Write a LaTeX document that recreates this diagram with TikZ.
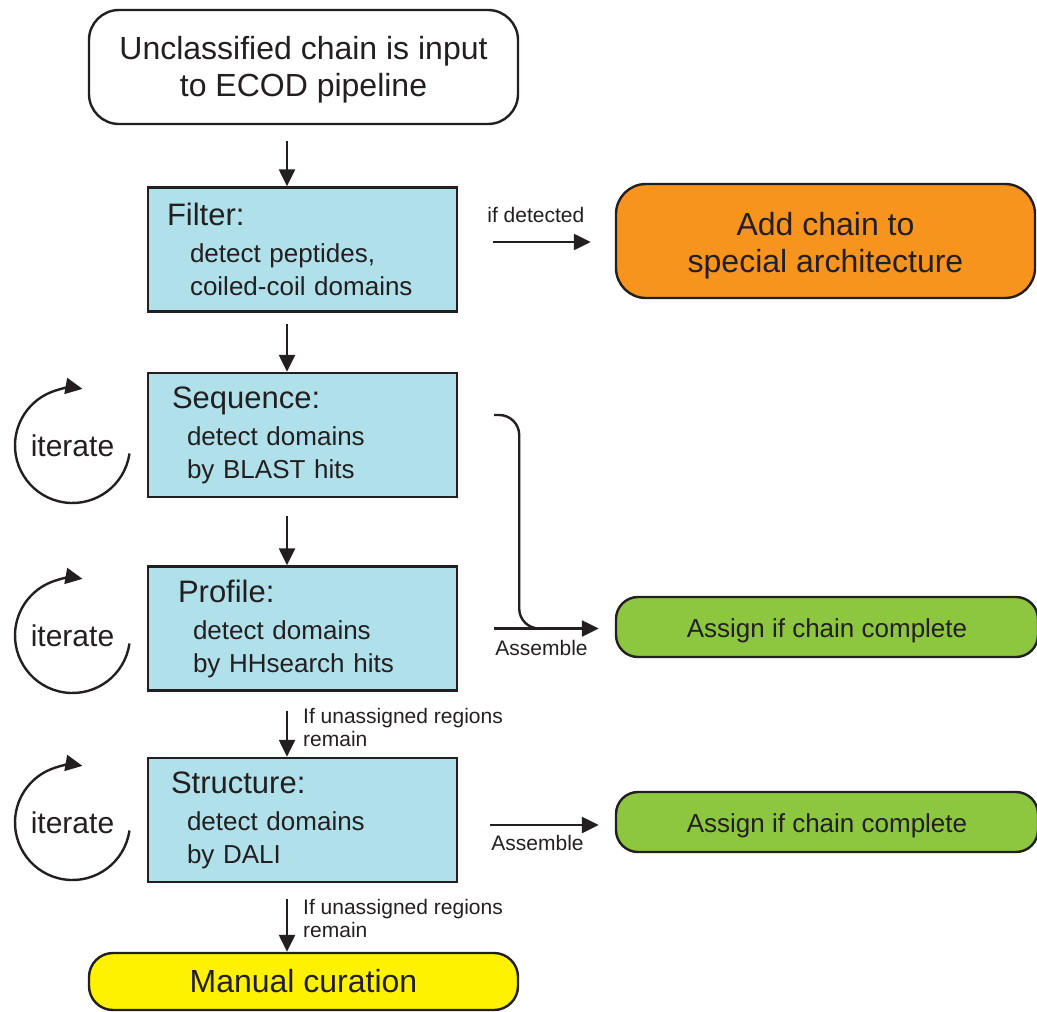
\documentclass[tikz,border=0pt]{standalone}
\usepackage{fontspec}
\setmainfont{Liberation Sans}
\usetikzlibrary{arrows.meta,calc}
\definecolor{ink}{HTML}{231F20}
\definecolor{stepblue}{HTML}{B0E0EA}
\definecolor{special}{HTML}{F7941E}
\definecolor{assign}{HTML}{8DC63F}
\definecolor{manual}{HTML}{FFF200}
\tikzset{
  flow/.style={-{Triangle[length=8.5pt,width=8pt]}, line width=1.2pt, draw=ink},
  link/.style={line width=1.2pt, draw=ink},
  endbox/.style={draw=ink, line width=1.2pt, rounded corners=15pt, align=center, text=ink, minimum width=214.5pt, font=\fontsize{16}{18.5}\selectfont},
  stepbox/.style={draw=ink, line width=1.2pt, fill=stepblue, minimum width=154.5pt, minimum height=62pt, inner xsep=0pt, text width=154.5pt, align=left, text=ink, font=\fontsize{13}{16.5}\selectfont},
  assignbox/.style={draw=ink, line width=1.2pt, fill=assign, rounded corners=11pt, minimum width=211pt, minimum height=30pt, text=ink, font=\fontsize{13}{15}\selectfont},
  note/.style={text=ink, inner sep=0pt, align=left, font=\fontsize{10.5}{11.5}\selectfont},
  loopword/.style={text=ink, inner sep=0pt, font=\fontsize{15}{16}\selectfont}
}
\newcommand{\StepText}[5]{% header indent, body indent, header, line 1, line 2
  \hspace*{#1}{\fontsize{15.5}{18}\selectfont #3}\\[2pt]
  \hspace*{#2}#4\\
  \hspace*{#2}#5}
\newcommand{\IterLoop}[2]{% name, centre
  \coordinate (#1) at (#2);
  \node[loopword] (#1-word) at (#1) {iterate};
  \draw[flow] ($(#1)+(-8:28.75pt)$) arc[start angle=-8, end angle=-280, radius=28.75pt];
}
\newcommand{\Lift}[1]{\rule{0pt}{#1}}% taller first line pushes the text down

\begin{document}
\begin{tikzpicture}[x=0.5pt, y=-0.5pt]
  \useasboundingbox (0,0) rectangle (1037,1011);
  \coordinate (spine) at (287,0);
  % main column
  \node[endbox, fill=white, minimum height=57pt] (input) at (303.5,67)
    {\Lift{14.5pt}Unclassified chain is input\\to ECOD pipeline};
  \node[stepbox] (filter) at (302.5,249.5)
    {\StepText{9.5pt}{21pt}{Filter:}{detect peptides,}{coiled-coil domains}};
  \node[stepbox] (seq) at (302.5,435)
    {\StepText{12pt}{19.5pt}{Sequence:}{detect domains}{by BLAST hits}};
  \node[stepbox] (profile) at (302.5,628.5)
    {\StepText{15pt}{22.5pt}{Profile:}{detect domains}{by HHsearch hits}};
  \node[stepbox] (struct) at (302.5,820)
    {\StepText{11.5pt}{19.5pt}{Structure:}{detect domains}{by DALI}};
  \node[endbox, fill=manual, rounded corners=12pt, minimum height=28.5pt] (curation) at (303.5,981.5)
    {Manual curation};
  % outcomes on the right
  \node[endbox, fill=special, minimum width=209.5pt, minimum height=57pt] (special) at (825.5,241)
    {\Lift{16.5pt}Add chain to\\special architecture};
  \node[assignbox] (assign1) at (827,627) {\Lift{13pt}Assign if chain complete};
  \node[assignbox] (assign2) at (827,822) {\Lift{13pt}Assign if chain complete};
  % iterate loops
  \IterLoop{loop1}{72.5,445.5}
  \IterLoop{loop2}{72.5,635.5}
  \IterLoop{loop3}{72.5,822.5}
  % down the column
  \draw[flow, shorten <=8pt] (input.south -| spine) -- (filter.north -| spine);
  \draw[flow, shorten <=5.5pt] (filter.south -| spine) -- (seq.north -| spine);
  \draw[flow, shorten <=9pt] (seq.south -| spine) -- (profile.north -| spine);
  \draw[flow, shorten <=9.5pt] (profile.south -| spine) -- (struct.north -| spine)
    node[note, pos=0, anchor=north west, xshift=7.5pt, yshift=-7.5pt] {If unassigned regions\\remain};
  \draw[flow, shorten <=8pt] (struct.south -| spine) -- (curation.north -| spine)
    node[note, pos=0, anchor=north west, xshift=7.5pt, yshift=-7.5pt] {If unassigned regions\\remain};
  % side branches
  \draw[flow] ($(filter.east)+(35,-7.5)$) -- ($(special.west |- filter.east)+(-24,-7.5)$)
    node[note, pos=0, anchor=base west, xshift=-3.5pt, yshift=10pt] {if detected};
  \draw[link] ($(seq.east)+(36,-20)$) [rounded corners=10pt] -| ($(profile.east)+(61,0)$)
    [rounded corners=3pt] -- ($(profile.east)+(80,0)$);
  \draw[flow] ($(profile.east)+(36,0)$) -- ($(assign1.west |- profile.east)+(-16,0)$)
    node[note, pos=0, anchor=base west, yshift=-13.5pt] {Assemble};
  \draw[flow] ($(struct.east)+(32,5)$) -- ($(assign2.west |- struct.east)+(-16,5)$)
    node[note, pos=0, anchor=base west, yshift=-12.5pt] {Assemble};
\end{tikzpicture}
\end{document}
